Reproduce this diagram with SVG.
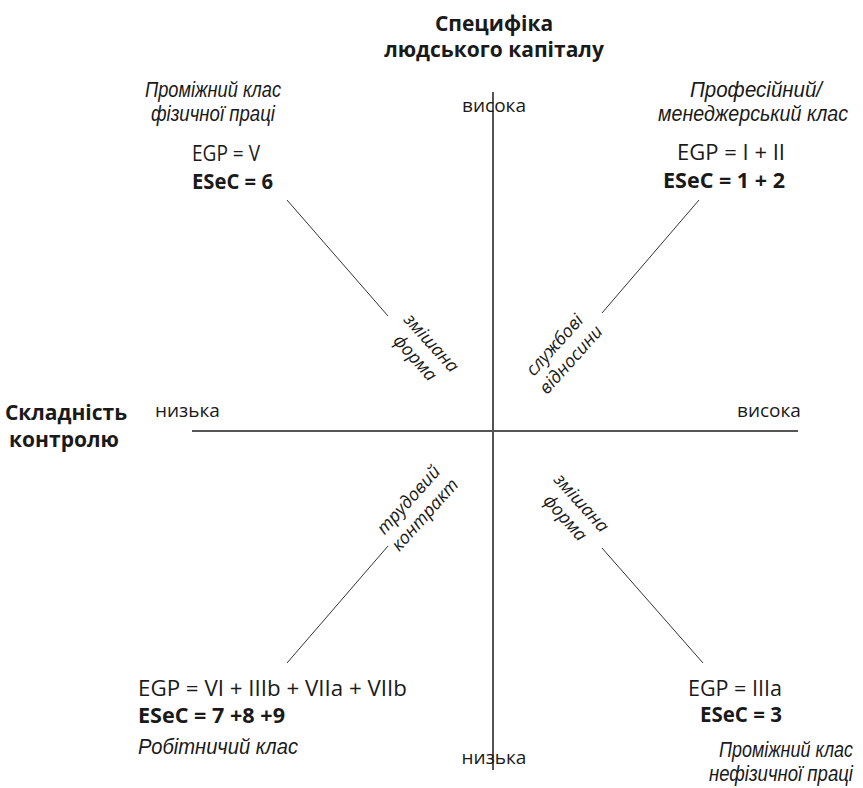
<svg xmlns="http://www.w3.org/2000/svg" width="863" height="788" viewBox="0 0 863 788">
<style>
.t{font-family:"Open Sans","Noto Sans",sans-serif;font-size:19px;fill:#1a1a1a}
.n{font-family:"Open Sans","Noto Sans",sans-serif;font-size:21px;fill:#1a1a1a}
.b{font-family:"Open Sans","Noto Sans",sans-serif;font-size:21px;font-weight:bold;fill:#1a1a1a}
.i{font-family:"Liberation Sans",Arial,sans-serif;font-size:22px;font-style:italic;fill:#1a1a1a}
.r{font-family:"Open Sans","Noto Sans",sans-serif;font-size:18px;font-style:italic;fill:#1a1a1a;text-anchor:middle}
.m{text-anchor:middle}
.e{text-anchor:end}
.ax{stroke:#555;stroke-width:2;fill:none}
.dl{stroke:#333;stroke-width:1;fill:none}
</style>
<rect width="863" height="788" fill="#fff"/>
<g id="connectors">
<line class="ax" x1="493" y1="92" x2="493" y2="770"/>
<line class="ax" x1="192" y1="431" x2="798" y2="431"/>
<line class="dl" x1="287" y1="200" x2="388" y2="316"/>
<line class="dl" x1="699" y1="200" x2="602" y2="313"/>
<line class="dl" x1="388" y1="546" x2="287" y2="663"/>
<line class="dl" x1="602" y1="548" x2="703" y2="663"/>
</g>
<g id="title">
<text class="b m" x="494" y="31" font-size="19">Специфіка</text>
<text class="b m" x="494" y="57" font-size="19">людського капіталу</text>
</g>
<g id="axis-x-label">
<text class="b m" x="66" y="420" font-size="19">Складність</text>
<text class="b m" x="64" y="447" font-size="19">контролю</text>
</g>
<g id="axis-ticks">
<text class="t m" x="494" y="112">висока</text>
<text class="t m" x="494" y="764">низька</text>
<text class="t" x="155" y="417">низька</text>
<text class="t" x="737" y="417">висока</text>
</g>
<g id="node-tl">
<text class="i m" x="213" y="97" textLength="136" lengthAdjust="spacingAndGlyphs">Проміжний клас</text>
<text class="i m" x="213" y="121" textLength="124" lengthAdjust="spacingAndGlyphs">фізичної праці</text>
<text class="n" x="192" y="161" textLength="68" lengthAdjust="spacingAndGlyphs">EGP = V</text>
<text class="b" x="192" y="189" textLength="81" lengthAdjust="spacingAndGlyphs">ESeC = 6</text>
</g>
<g id="node-tr">
<text class="i m" x="756" y="97" textLength="132" lengthAdjust="spacingAndGlyphs">Професійний/</text>
<text class="i m" x="753" y="121" textLength="190" lengthAdjust="spacingAndGlyphs">менеджерський клас</text>
<text class="n" x="677" y="160" textLength="108" lengthAdjust="spacingAndGlyphs">EGP = I + II</text>
<text class="b" x="663" y="188" textLength="122" lengthAdjust="spacingAndGlyphs">ESeC = 1 + 2</text>
</g>
<g id="node-bl">
<text class="n" x="138" y="696" textLength="269" lengthAdjust="spacingAndGlyphs">EGP = VI + IIIb + VIIa + VIIb</text>
<text class="b" x="138" y="723" textLength="147" lengthAdjust="spacingAndGlyphs">ESeC = 7 +8 +9</text>
<text class="i" x="138" y="754" textLength="160" lengthAdjust="spacingAndGlyphs">Робітничий клас</text>
</g>
<g id="node-br">
<text class="n" x="688" y="696" textLength="94" lengthAdjust="spacingAndGlyphs">EGP = IIIa</text>
<text class="b" x="700" y="722" textLength="82" lengthAdjust="spacingAndGlyphs">ESeC = 3</text>
<text class="i" x="719" y="757" textLength="134" lengthAdjust="spacingAndGlyphs">Проміжний клас</text>
<text class="i" x="709" y="781" textLength="144" lengthAdjust="spacingAndGlyphs">нефізичної праці</text>
</g>
<g id="label-tl" transform="translate(427,347) rotate(48)">
<text class="r" x="0" y="0">змішана</text>
<text class="r" x="0" y="22">форма</text>
</g>
<g id="label-tr" transform="translate(559,349) rotate(-48)">
<text class="r" x="0" y="0">службові</text>
<text class="r" x="0" y="22">відносини</text>
</g>
<g id="label-bl" transform="translate(413,504) rotate(-48)">
<text class="r" x="0" y="0">трудовий</text>
<text class="r" x="0" y="22">контракт</text>
</g>
<g id="label-br" transform="translate(577,507) rotate(48)">
<text class="r" x="0" y="0">змішана</text>
<text class="r" x="0" y="22">форма</text>
</g>
</svg>
